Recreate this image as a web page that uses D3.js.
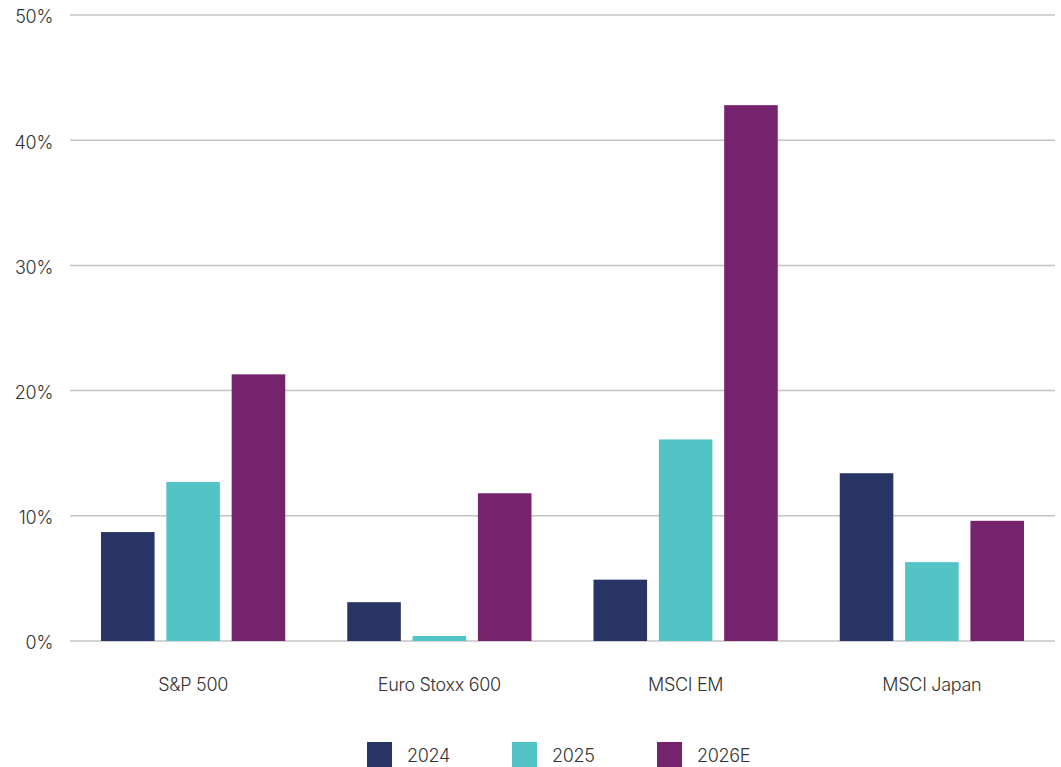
<!DOCTYPE html>
<html>
<head>
<meta charset="utf-8">
<script src="https://cdn.jsdelivr.net/npm/d3@7"></script>
<style>
  body { margin: 0; background: #fff; }
  svg text { font-family: Inter, "Open Sans", sans-serif; fill: #333; font-weight: 300; letter-spacing: -0.3px; }
</style>
</head>
<body>
<div id="graph"></div>
<script>
const categories = ['S&P 500', 'Euro Stoxx 600', 'MSCI EM', 'MSCI Japan']
const seriesNames = ['2024', '2025', '2026E']
const values2024 = [8.7, 3.1, 4.9, 13.4]
const values2025 = [12.7, 0.4, 16.1, 6.3]
const values2026E = [21.3, 11.8, 42.8, 9.6]
const yTicks = [0, 10, 20, 30, 40, 50]
const colors = ['#283464', '#53c4c6', '#76236e']

const seriesValues = [values2024, values2025, values2026E]
const dataSet = categories.map((c, i) => ({
    name: c,
    vals: seriesNames.map((s, j) => ({ key: s, value: seriesValues[j][i] }))
}))

const width = 1061
const height = 767
const plotLeft = 70, plotRight = 1055, plotTop = 15, plotBottom = 641

const svg = d3.select('#graph')
    .append('svg')
    .attr('width', width)
    .attr('height', height)

const y = d3.scaleLinear().domain([0, 50]).range([plotBottom, plotTop])
const x0 = d3.scaleBand().domain(categories).range([plotLeft, plotRight]).padding(0)
const x1 = d3.scaleBand().domain(seriesNames)
    .range([31, x0.bandwidth() - 31]).paddingInner(0.18).paddingOuter(0)
const color = d3.scaleOrdinal().domain(seriesNames).range(colors)

// gridlines
svg.append('g')
    .selectAll('line')
    .data(yTicks)
    .enter()
    .append('line')
    .attr('x1', plotLeft)
    .attr('x2', plotRight)
    .attr('y1', d => y(d))
    .attr('y2', d => y(d))
    .attr('stroke', '#c4c4c4')
    .attr('stroke-width', 1.5)

// y labels
const yAxis = d3.axisLeft(y).tickValues(yTicks).tickFormat(d => d + '%').tickSize(0).tickPadding(0)
const gy = svg.append('g')
    .attr('transform', `translate(53,1.5)`)
    .call(yAxis)
gy.select('.domain').remove()
gy.selectAll('text').attr('font-size', 18).attr('font-family', null).attr('dy', '0.36em')

// bars
const groups = svg.selectAll('.group')
    .data(dataSet)
    .enter()
    .append('g')
    .attr('class', 'group')
    .attr('transform', d => `translate(${x0(d.name)},0)`)

groups.selectAll('rect')
    .data(d => d.vals)
    .enter()
    .append('rect')
    .attr('x', d => x1(d.key))
    .attr('width', x1.bandwidth())
    .attr('y', d => y(d.value))
    .attr('height', d => y(0) - y(d.value))
    .attr('fill', d => color(d.key))

// x labels
const xAxis = d3.axisBottom(x0).tickSize(0).tickPadding(0)
const gx = svg.append('g')
    .attr('transform', `translate(0,684.5)`)
    .call(xAxis)
gx.select('.domain').remove()
gx.selectAll('text').attr('font-size', 18).attr('font-family', null).attr('dy', '0.36em')

// legend
const legend = svg.append('g').attr('id', 'legend')
const legendX = d3.scalePoint().domain(seriesNames).range([367, 657])
const item = legend.selectAll('g')
    .data(seriesNames)
    .enter()
    .append('g')
    .attr('transform', d => `translate(${legendX(d)},742)`)
item.append('rect')
    .attr('width', 25)
    .attr('height', 25)
    .attr('fill', d => color(d))
item.append('text')
    .attr('x', 40)
    .attr('y', 13.5)
    .attr('dy', '0.36em')
    .attr('font-size', 18)
    .text(d => d)
</script>
</body>
</html>
